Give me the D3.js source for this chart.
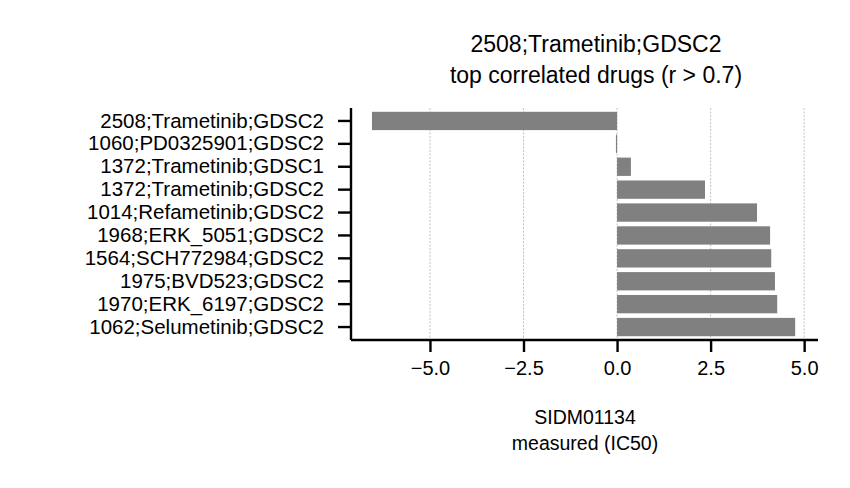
<!DOCTYPE html><html><head><meta charset="utf-8"><script src="https://cdn.jsdelivr.net/npm/d3@7"></script>
<style>body{margin:0;background:#fff}text{font-family:Arial,"Liberation Sans",sans-serif}</style></head><body><svg id="c" width="850" height="488"></svg>
<script>
const categories=["2508;Trametinib;GDSC2","1060;PD0325901;GDSC2","1372;Trametinib;GDSC1","1372;Trametinib;GDSC2","1014;Refametinib;GDSC2","1968;ERK_5051;GDSC2","1564;SCH772984;GDSC2","1975;BVD523;GDSC2","1970;ERK_6197;GDSC2","1062;Selumetinib;GDSC2"];
const values=[-6.55,-0.03,0.37,2.35,3.74,4.09,4.12,4.22,4.28,4.76];
const xTicks=[-5,-2.5,0,2.5,5];
const svg=d3.select("#c");
const L=351,R=818,T=108,B=340;
const x=d3.scaleLinear().domain([-7.11,5.37]).range([L,R]);
const y=d3.scaleBand().domain(categories).range([T+1.5,B-1.5]).paddingInner(0.2).paddingOuter(0.1);
svg.append("g").selectAll("line").data(xTicks).join("line").attr("x1",d=>x(d)).attr("x2",d=>x(d)).attr("y1",T).attr("y2",B).attr("stroke","#999").attr("stroke-width",0.6).attr("stroke-dasharray","2,1.5");
svg.append("g").selectAll("rect").data(values).join("rect").attr("y",(d,i)=>y(categories[i])).attr("height",y.bandwidth()).attr("x",d=>x(Math.min(0,d))).attr("width",d=>Math.max(1,Math.abs(x(d)-x(0)))).attr("fill","#808080");
const ax=svg.append("g").attr("transform",`translate(0,${B})`).call(d3.axisBottom(x).tickValues(xTicks).tickFormat(d=>d3.format(".1f")(d).replace("-","\u2212")).tickSizeOuter(0).tickSize(12).tickPadding(9));
const ay=svg.append("g").attr("transform",`translate(${L},0)`).call(d3.axisLeft(y).tickSize(13).tickSizeOuter(0).tickPadding(14));
[ax,ay].forEach(a=>{a.selectAll("path,line").attr("stroke","#000").attr("stroke-width",2.4);a.selectAll("text").attr("font-size",20).attr("fill","#000");});
ay.selectAll("text").attr("font-size",20.5);
ax.select("path").attr("d",`M${L},0H${R}`);ay.select("path").attr("d",`M0,${T}V${B}`);
const t=svg.append("g").attr("text-anchor","middle").attr("font-size",23);
t.append("text").attr("x",596).attr("y",52).text("2508;Trametinib;GDSC2");
t.append("text").attr("x",596).attr("y",83).text("top correlated drugs (r > 0.7)");
const xl=svg.append("g").attr("text-anchor","middle").attr("font-size",19.5);
xl.append("text").attr("x",585).attr("y",424).text("SIDM01134");
xl.append("text").attr("x",585).attr("y",450).text("measured (IC50)");
</script></body></html>
